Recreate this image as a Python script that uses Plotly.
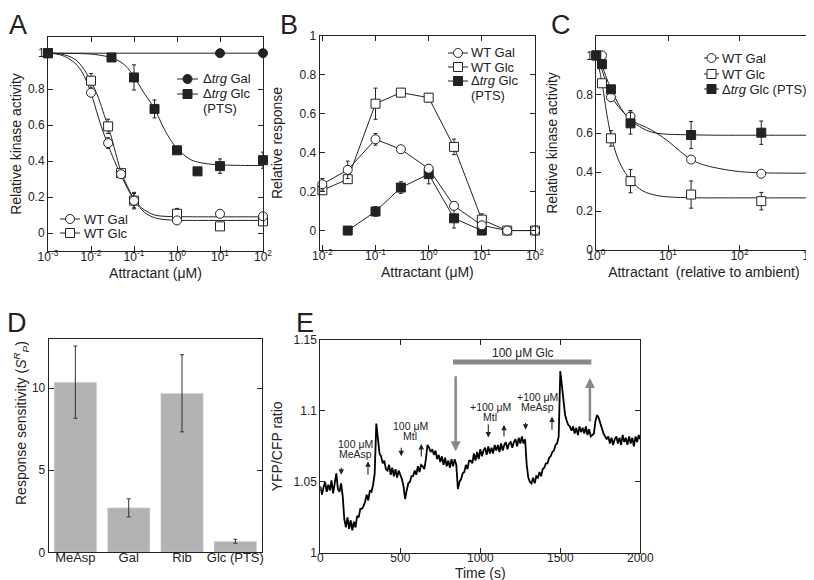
import plotly.graph_objects as go

W, H = 814, 580
INK = "#222222"
FONT = "Liberation Sans, Arial, sans-serif"

# ---------------- Panel A: relative kinase activity vs attractant (uM)
a_trg_gal_x = [0.001, 10, 100]
a_trg_gal_y = [1.0, 1.0, 1.0]
a_trg_glc_x = [0.001, 0.03, 0.1, 0.3, 1, 3, 10, 100]
a_trg_glc_y = [1.0, 0.976, 0.865, 0.69, 0.46, 0.343, 0.372, 0.405]
a_trg_glc_err = [0, 0.01, 0.07, 0.05, 0.01, 0, 0.04, 0.045]
a_wt_x = [0.001, 0.01, 0.025, 0.05, 0.1, 1, 10, 100]
a_wt_gal_y = [1.0, 0.78, 0.50, 0.327, 0.18, 0.07, 0.107, 0.093]
a_wt_gal_err = [0, 0.02, 0.03, 0.02, 0.046, 0.01, 0.01, 0.01]
a_wt_glc_y = [1.0, 0.847, 0.593, 0.333, 0.18, 0.107, 0.037, 0.065]
a_wt_glc_err = [0, 0.04, 0.04, 0.02, 0.04, 0.03, 0.01, 0.01]

# fitted curves
a_fit_trg_gal_x = [0.001, 100]
a_fit_trg_gal_y = [1.0, 1.0]
a_fit_trg_glc_x = [0.001, 0.003, 0.01, 0.02, 0.03, 0.05, 0.07, 0.1, 0.15, 0.2,
                   0.3, 0.5, 0.7, 1, 2, 3, 5, 10, 30, 100]
a_fit_trg_glc_y = [1.0, 0.999, 0.995, 0.985, 0.975, 0.95, 0.92, 0.87, 0.80, 0.755,
                   0.69, 0.58, 0.52, 0.47, 0.41, 0.395, 0.385, 0.379, 0.376, 0.375]
a_fit_wt_x = [0.001, 0.002, 0.004, 0.006, 0.008, 0.01, 0.015, 0.02, 0.025, 0.03,
              0.04, 0.05, 0.07, 0.1, 0.15, 0.2, 0.3, 0.5, 1, 3, 10, 100]
a_fit_wt_gal_y = [1.0, 0.99, 0.95, 0.9, 0.84, 0.78, 0.64, 0.55, 0.49, 0.44,
                  0.37, 0.32, 0.25, 0.185, 0.13, 0.105, 0.085, 0.075, 0.071, 0.07, 0.07, 0.07]
a_fit_wt_glc_y = [1.0, 0.995, 0.97, 0.93, 0.885, 0.845, 0.75, 0.66, 0.595, 0.53,
                  0.42, 0.34, 0.26, 0.19, 0.14, 0.12, 0.10, 0.093, 0.091, 0.09, 0.09, 0.09]

# ---------------- Panel B: relative response
b_x = [0.01, 0.03, 0.1, 0.3, 1, 3, 10, 30, 100]
b_wt_gal_y = [0.238, 0.312, 0.469, 0.418, 0.318, 0.127, 0.027, 0, 0]
b_wt_gal_err = [0.03, 0.045, 0.03, 0.01, 0.02, 0.02, 0.02, 0, 0]
b_wt_glc_y = [0.207, 0.264, 0.652, 0.709, 0.683, 0.43, 0.056, 0, 0]
b_wt_glc_err = [0.02, 0.02, 0.08, 0.01, 0.02, 0.04, 0.03, 0, 0]
b_trg_x = [0.03, 0.1, 0.3, 1, 3, 10]
b_trg_glc_y = [0, 0.098, 0.221, 0.29, 0.063, 0]
b_trg_glc_err = [0, 0.025, 0.03, 0.05, 0.05, 0]

# ---------------- Panel C: relative kinase activity vs attractant (relative to ambient)
c_x = [1, 1.2, 1.6, 3, 21, 200]
c_wt_gal_y = [1.0, 1.0, 0.785, 0.687, 0.465, 0.392]
c_wt_gal_err = [0, 0, 0.01, 0.03, 0.01, 0.01]
c_wt_glc_y = [1.0, 0.857, 0.574, 0.354, 0.285, 0.251]
c_wt_glc_err = [0, 0.01, 0.04, 0.06, 0.07, 0.045]
c_trg_glc_y = [1.0, 0.955, 0.826, 0.651, 0.591, 0.603]
c_trg_glc_err = [0, 0.01, 0.01, 0.055, 0.07, 0.06]

c_fit_x = [1, 1.1, 1.2, 1.4, 1.6, 2, 2.5, 3, 4, 5, 7, 10, 15, 21, 30, 50, 100, 200, 500, 1000]
c_fit_wt_gal_y = [1.0, 0.96, 0.925, 0.85, 0.795, 0.74, 0.70, 0.672, 0.645, 0.63, 0.60,
                  0.56, 0.505, 0.465, 0.44, 0.42, 0.403, 0.397, 0.395, 0.395]
c_fit_wt_glc_y = [1.0, 0.93, 0.86, 0.70, 0.59, 0.47, 0.40, 0.36, 0.315, 0.295, 0.28,
                  0.273, 0.27, 0.269, 0.268, 0.268, 0.268, 0.268, 0.268, 0.268]
c_fit_trg_glc_y = [1.0, 0.975, 0.95, 0.88, 0.83, 0.755, 0.70, 0.665, 0.635, 0.615, 0.60,
                   0.595, 0.593, 0.592, 0.591, 0.59, 0.59, 0.59, 0.59, 0.59]

# ---------------- Panel D: response sensitivity
d_names = ["MeAsp", "Gal", "Rib", "Glc (PTS)"]
d_vals = [10.37, 2.71, 9.69, 0.67]
d_err = [2.2, 0.55, 2.35, 0.12]

# ---------------- Panel E: FRET trace (YFP/CFP ratio, read every 10 s, in 1e-3 above 1)
e_time = list(range(0, 2001, 10))
e_ratio_milli = [
    47, 41, 46, 50, 43, 48, 44, 51, 42, 48,
    56, 45, 43, 49, 40, 24, 18, 25, 17, 23,
    16, 22, 18, 26, 25, 31, 31, 33, 36, 41,
    37, 44, 43, 48, 56, 91, 80, 70, 68, 63,
    65, 59, 58, 62, 55, 60, 54, 59, 53, 58,
    55, 52, 47, 38, 44, 49, 50, 54, 54, 58,
    55, 61, 57, 62, 61, 59, 66, 76, 74, 71,
    73, 69, 72, 66, 69, 64, 68, 62, 67, 61,
    65, 60, 66, 61, 66, 62, 45, 50, 52, 56,
    57, 62, 59, 65, 65, 63, 70, 65, 71, 66,
    73, 68, 72, 74, 69, 75, 70, 74, 70, 76,
    72, 76, 71, 77, 72, 76, 78, 73, 77, 78,
    74, 78, 80, 75, 81, 77, 82, 77, 80, 62,
    53, 50, 49, 53, 49, 54, 53, 57, 54, 59,
    60, 63, 63, 67, 68, 71, 72, 76, 77, 82,
    128, 117, 104, 97, 93, 90, 89, 86, 89, 84,
    88, 83, 89, 85, 88, 84, 89, 83, 87, 82,
    83, 84, 93, 97, 95, 91, 87, 84, 82, 80,
    82, 77, 81, 76, 80, 82, 77, 81, 76, 83,
    78, 81, 76, 82, 77, 81, 75, 82, 78, 83,
    80,
]
e_ratio = [1 + v / 1000 for v in e_ratio_milli]

# stimulus labels in panel E: (text, time, ratio)
e_labels = [("100 μM", 219, 1.0767), ("MeAsp", 219, 1.0696),
            ("100 μM", 562, 1.0891), ("Mtl", 562, 1.0821),
            ("+100 μM", 1061, 1.1025), ("Mtl", 1061, 1.0954),
            ("+100 μM", 1356, 1.1095), ("MeAsp", 1356, 1.1025)]
# small arrows: (time, head ratio, tail ratio)
e_arrows = [(131, 1.055, 1.061), (298, 1.0645, 1.054), (506, 1.068, 1.075),
            (631, 1.0767, 1.0668), (1050, 1.0813, 1.0914), (1148, 1.0902, 1.0809),
            (1283, 1.0867, 1.0925), (1448, 1.096, 1.0856)]
# glucose on/off arrows and bar
e_glc_arrows = [(846, 1.0715, 1.1254), (1685, 1.123, 1.0914)]
e_glc_bar = (829, 1694, 1.1343)


def dom_x(left, right):
    return [left / W, right / W]


def dom_y(top, bottom):
    return [1 - bottom / H, 1 - top / H]


def axis(**kw):
    d = dict(showline=True, linecolor=INK, linewidth=1, mirror='ticks', ticks='inside',
             ticklen=5, tickcolor=INK, showgrid=False, zeroline=False, automargin=False,
             tickfont=dict(size=12, color=INK, family=FONT),
             title_font=dict(size=14, color=INK, family=FONT))
    d.update(kw)
    return d


def err(arr):
    return dict(type='data', array=arr, visible=True, thickness=1, width=2, color=INK)


OPEN_CIRCLE = dict(symbol='circle', size=9, color='white', line=dict(color=INK, width=1))
OPEN_SQUARE = dict(symbol='square', size=9, color='white', line=dict(color=INK, width=1))
FILL_CIRCLE = dict(symbol='circle', size=9, color=INK, line=dict(color=INK, width=1))
FILL_SQUARE = dict(symbol='square', size=9, color=INK, line=dict(color=INK, width=1))
LINE = dict(color=INK, width=1)

fig = go.Figure()
annotations = []
shapes = []


def fit(x, y, xa, ya):
    fig.add_trace(go.Scatter(x=x, y=y, mode='lines', line=dict(LINE, shape='spline'),
                             xaxis=xa, yaxis=ya, showlegend=False, hoverinfo='skip'))


def points(x, y, e, marker, xa, ya, mode='markers'):
    fig.add_trace(go.Scatter(x=x, y=y, mode=mode, marker=marker, line=LINE,
                             error_y=err(e) if e else None, cliponaxis=False,
                             xaxis=xa, yaxis=ya, showlegend=False))


def text(label, x, y, size=13, **kw):
    d = dict(text=label, x=x / W, y=1 - y / H, xref='paper', yref='paper',
             xanchor='left', yanchor='middle', showarrow=False,
             font=dict(size=size, color=INK, family=FONT))
    d.update(kw)
    annotations.append(d)


def legend_row(x0, x1, y, kind, filled, label, tx, extra=None):
    """Hand-drawn legend row: short line, marker in the middle, text to the right."""
    py = 1 - y / H
    shapes.append(dict(type='line', xref='paper', yref='paper', x0=x0 / W, x1=x1 / W,
                       y0=py, y1=py, line=dict(color=INK, width=1)))
    shapes.append(dict(type=kind, xref='paper', yref='paper', xsizemode='pixel',
                       ysizemode='pixel', xanchor=(x0 + x1) / 2 / W, yanchor=py,
                       x0=-4.5, x1=4.5, y0=-4.5, y1=4.5,
                       fillcolor=INK if filled else 'white', line=dict(color=INK, width=1)))
    text(label, tx, y)
    if extra:
        text(extra[0], extra[1], extra[2], xanchor='center')


# Panel A
fit(a_fit_trg_gal_x, a_fit_trg_gal_y, 'x', 'y')
fit(a_fit_trg_glc_x, a_fit_trg_glc_y, 'x', 'y')
fit(a_fit_wt_x, a_fit_wt_gal_y, 'x', 'y')
fit(a_fit_wt_x, a_fit_wt_glc_y, 'x', 'y')
points(a_wt_x, a_wt_glc_y, a_wt_glc_err, OPEN_SQUARE, 'x', 'y')
points(a_wt_x, a_wt_gal_y, a_wt_gal_err, OPEN_CIRCLE, 'x', 'y')
points(a_trg_glc_x, a_trg_glc_y, a_trg_glc_err, FILL_SQUARE, 'x', 'y')
points(a_trg_gal_x, a_trg_gal_y, None, FILL_CIRCLE, 'x', 'y')

# Panel B
points(b_x, b_wt_glc_y, b_wt_glc_err, OPEN_SQUARE, 'x2', 'y2', 'lines+markers')
points(b_trg_x, b_trg_glc_y, b_trg_glc_err, FILL_SQUARE, 'x2', 'y2', 'lines+markers')
points(b_x, b_wt_gal_y, b_wt_gal_err, OPEN_CIRCLE, 'x2', 'y2', 'lines+markers')

# Panel C
fit(c_fit_x, c_fit_wt_gal_y, 'x3', 'y3')
fit(c_fit_x, c_fit_wt_glc_y, 'x3', 'y3')
fit(c_fit_x, c_fit_trg_glc_y, 'x3', 'y3')
points(c_x, c_wt_glc_y, c_wt_glc_err, OPEN_SQUARE, 'x3', 'y3')
points(c_x, c_wt_gal_y, c_wt_gal_err, OPEN_CIRCLE, 'x3', 'y3')
points(c_x, c_trg_glc_y, c_trg_glc_err, FILL_SQUARE, 'x3', 'y3')

# Panel D
fig.add_trace(go.Bar(x=d_names, y=d_vals, width=0.8, marker_color='#b3b3b3',
                     error_y=dict(type='data', array=d_err, visible=True, thickness=1,
                                  width=2, color='#333333'),
                     xaxis='x4', yaxis='y4', showlegend=False))

# Panel E
fig.add_trace(go.Scatter(x=e_time, y=e_ratio, mode='lines', line=dict(color='black', width=1.8),
                         xaxis='x5', yaxis='y5', showlegend=False))

# legends (drawn by hand so the rows sit as tight as in the original)
legend_row(169, 190, 71, 'circle', True, "Δ<i>trg</i> Gal", 193)
legend_row(169, 190, 86, 'rect', True, "Δ<i>trg</i> Glc", 193, ("(PTS)", 212, 101))
legend_row(52, 72, 211, 'circle', False, "WT Gal", 74)
legend_row(52, 72, 225, 'rect', False, "WT Glc", 74)
legend_row(440, 460, 45, 'circle', False, "WT Gal", 461)
legend_row(440, 460, 59, 'rect', False, "WT Glc", 461)
legend_row(440, 460, 73, 'rect', True, "Δ<i>trg</i> Glc", 461, ("(PTS)", 480, 88))
legend_row(696, 711, 50, 'circle', False, "WT Gal", 712)
legend_row(696, 711, 66, 'rect', False, "WT Glc", 712)
legend_row(696, 711, 81, 'rect', True, "Δ<i>trg</i> Glc (PTS)", 712)

# panel letters
for letter, lx, ly in [("A", 10, 17), ("B", 281, 17), ("C", 553, 17), ("D", 9, 315), ("E", 297, 315)]:
    text(letter, lx, ly, size=27, xanchor='center')

# panel D y title (sits a little above the axis middle in the original)
text("Response sensitivity (<i>S</i><sup><i>R</i></sup><sub><i>P</i></sub>)", 13, 415, size=14,
     xanchor='center', textangle=-90)

# panel E decorations
for label, tx, ty in e_labels:
    annotations.append(dict(text=label, x=tx, y=ty, xref='x5', yref='y5', showarrow=False,
                            font=dict(size=10.5, color=INK, family=FONT),
                            xanchor='center', yanchor='middle'))
annotations.append(dict(text="100 μM Glc", x=1267, y=1.1405, xref='x5', yref='y5',
                        showarrow=False, font=dict(size=12, color=INK, family=FONT)))
for t, head, tail in e_arrows:
    annotations.append(dict(x=t, y=head, ax=t, ay=tail, xref='x5', yref='y5', axref='x5',
                            ayref='y5', showarrow=True, arrowhead=2, arrowsize=1,
                            arrowwidth=1.1, arrowcolor=INK, text=""))
for t, head, tail in e_glc_arrows:
    annotations.append(dict(x=t, y=head, ax=t, ay=tail, xref='x5', yref='y5', axref='x5',
                            ayref='y5', showarrow=True, arrowhead=2, arrowsize=0.8,
                            arrowwidth=2.5, arrowcolor='#888888', text=""))
shapes.append(dict(type='line', xref='x5', yref='y5', x0=e_glc_bar[0], x1=e_glc_bar[1],
                   y0=e_glc_bar[2], y1=e_glc_bar[2], line=dict(color='#888888', width=5)))

dec_vals = [1e-3, 1e-2, 1e-1, 1, 10, 100, 1000]
dec_text = ["10<sup>-3</sup>", "10<sup>-2</sup>", "10<sup>-1</sup>", "10<sup>0</sup>",
            "10<sup>1</sup>", "10<sup>2</sup>", "10<sup>3</sup>"]
kin_vals = [0, 0.2, 0.4, 0.6, 0.8, 1]
kin_text = ["0", "0.2", "0.4", "0.6", "0.8", "1"]
XS = -5  # pull x tick labels up towards the frame

fig.update_layout(
    width=W, height=H,
    margin=dict(l=0, r=0, t=0, b=0, autoexpand=False),
    paper_bgcolor='white', plot_bgcolor='white',
    font=dict(family=FONT, color=INK),
    showlegend=False,
    xaxis=axis(domain=dom_x(40, 255), type='log', range=[-3, 2], tickvals=dec_vals[:6],
               ticktext=dec_text[:6], ticklabelstandoff=XS,
               title=dict(text="Attractant (μM)", standoff=4), anchor='y'),
    yaxis=axis(domain=dom_y(29, 243), range=[-0.1, 1.09], tickvals=kin_vals, ticktext=kin_text,
               title=dict(text="Relative kinase activity", standoff=10), anchor='x'),
    xaxis2=axis(domain=dom_x(311.7, 527), type='log', range=[-2.05, 2], tickvals=dec_vals[1:6],
                ticktext=dec_text[1:6], ticklabelstandoff=XS,
                title=dict(text="Attractant (μM)", standoff=4), anchor='y2'),
    yaxis2=axis(domain=dom_y(28, 242), range=[-0.1, 1], tickvals=kin_vals, ticktext=kin_text,
                title=dict(text="Relative response", standoff=13), anchor='x2'),
    xaxis3=axis(domain=dom_x(588.3, 803.4), type='log', range=[0, 3], tickvals=dec_vals[3:],
                ticktext=dec_text[3:], ticklabelstandoff=XS,
                title=dict(text="Attractant  (relative to ambient)", standoff=4), anchor='y3'),
    yaxis3=axis(domain=dom_y(28, 242), range=[0, 1.1], tickvals=kin_vals, ticktext=kin_text,
                title=dict(text="Relative kinase activity", standoff=15), anchor='x3'),
    xaxis4=axis(domain=dom_x(40.7, 254), range=[-0.5, 3.5], ticks='', mirror=True,
                ticklabelstandoff=-7,
                tickfont=dict(size=13, color=INK, family=FONT), anchor='y4'),
    yaxis4=axis(domain=dom_y(331, 544.3), range=[0, 13], tickvals=[0, 5, 10], anchor='x4'),
    xaxis5=axis(domain=dom_x(312.3, 632.3), range=[0, 2000], tickvals=[0, 500, 1000, 1500, 2000],
                ticklabelstandoff=-6, title=dict(text="Time (s)", standoff=0), anchor='y5'),
    yaxis5=axis(domain=dom_y(331.7, 545), range=[1, 1.15], tickvals=[1, 1.05, 1.1, 1.15],
                ticktext=["1", "1.05", "1.1", "1.15"],
                title=dict(text="YFP/CFP ratio", standoff=7), anchor='x5'),
    annotations=annotations,
    shapes=shapes,
)

fig.write_html("out.html")
